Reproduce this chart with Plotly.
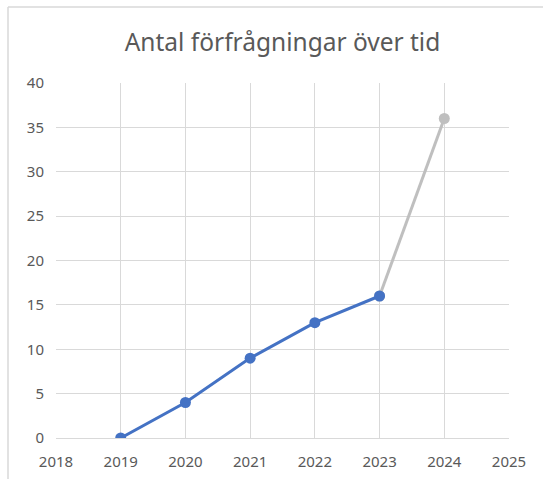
import plotly.graph_objects as go

# data
years = [2019, 2020, 2021, 2022, 2023]
requests = [0, 4, 9, 13, 16]
forecast_years = [2023, 2024]
forecast_requests = [16, 36]

x_ticks = [2018, 2019, 2020, 2021, 2022, 2023, 2024, 2025]
y_ticks = [0, 5, 10, 15, 20, 25, 30, 35, 40]

title_text = "Antal förfrågningar över tid"

BLUE = "#4472C4"
GRAY = "#BFBFBF"
GRID = "#D9D9D9"
TEXT = "#595959"
FONT = "Noto Sans"

fig = go.Figure()

# gray forecast segment first so the blue 2023 marker sits on top
fig.add_trace(go.Scatter(
    x=forecast_years, y=forecast_requests,
    mode="lines+markers",
    line=dict(color=GRAY, width=3),
    marker=dict(color=GRAY, size=11),
    hoverinfo="x+y", showlegend=False,
))
fig.add_trace(go.Scatter(
    x=years, y=requests,
    mode="lines+markers",
    line=dict(color=BLUE, width=3),
    marker=dict(color=BLUE, size=11),
    hoverinfo="x+y", showlegend=False,
))

W, H = 543, 479
L, R, T, B = 56, 34, 83, 41
pw, ph = W - L - R, H - T - B

# outer chart border (extends past the right/bottom edge of the picture)
bx0 = (8 - L) / pw
by1 = (H - B - 7) / ph
fig.add_shape(type="line", xref="paper", yref="paper",
              x0=bx0, x1=1.2, y0=by1, y1=by1,
              line=dict(color=GRID, width=1.5))
fig.add_shape(type="line", xref="paper", yref="paper",
              x0=bx0, x1=bx0, y0=by1, y1=-0.3,
              line=dict(color=GRID, width=1.5))

fig.update_layout(
    width=W, height=H,
    margin=dict(l=L, r=R, t=T, b=B),
    paper_bgcolor="white", plot_bgcolor="white",
    font=dict(family=FONT, color=TEXT, size=15),
    title=dict(text=title_text, x=(L + pw / 2) / W, xanchor="center",
               y=1 - 42 / H, yanchor="middle",
               font=dict(family=FONT, size=24.5, color=TEXT)),
)

fig.update_xaxes(
    range=[2018, 2025], tickvals=x_ticks, ticktext=[str(t) for t in x_ticks],
    showgrid=True, gridcolor=GRID, gridwidth=1,
    showline=True, linecolor=GRID, linewidth=1, mirror=False,
    zeroline=False, ticks="", ticklabelstandoff=10, automargin=False,
    tickfont=dict(family=FONT, size=15, color=TEXT),
)
fig.update_yaxes(
    range=[0, 40], tickvals=y_ticks,
    showgrid=True, gridcolor=GRID, gridwidth=1,
    showline=False, zeroline=False, ticks="", ticklabelstandoff=11,
    automargin=False,
    tickfont=dict(family=FONT, size=15, color=TEXT),
)

# drop the browser's default page margin so the figure sits at (0, 0)
fig.write_html("out.html", config={"displayModeBar": False},
               post_script="document.body.style.margin='0';")
